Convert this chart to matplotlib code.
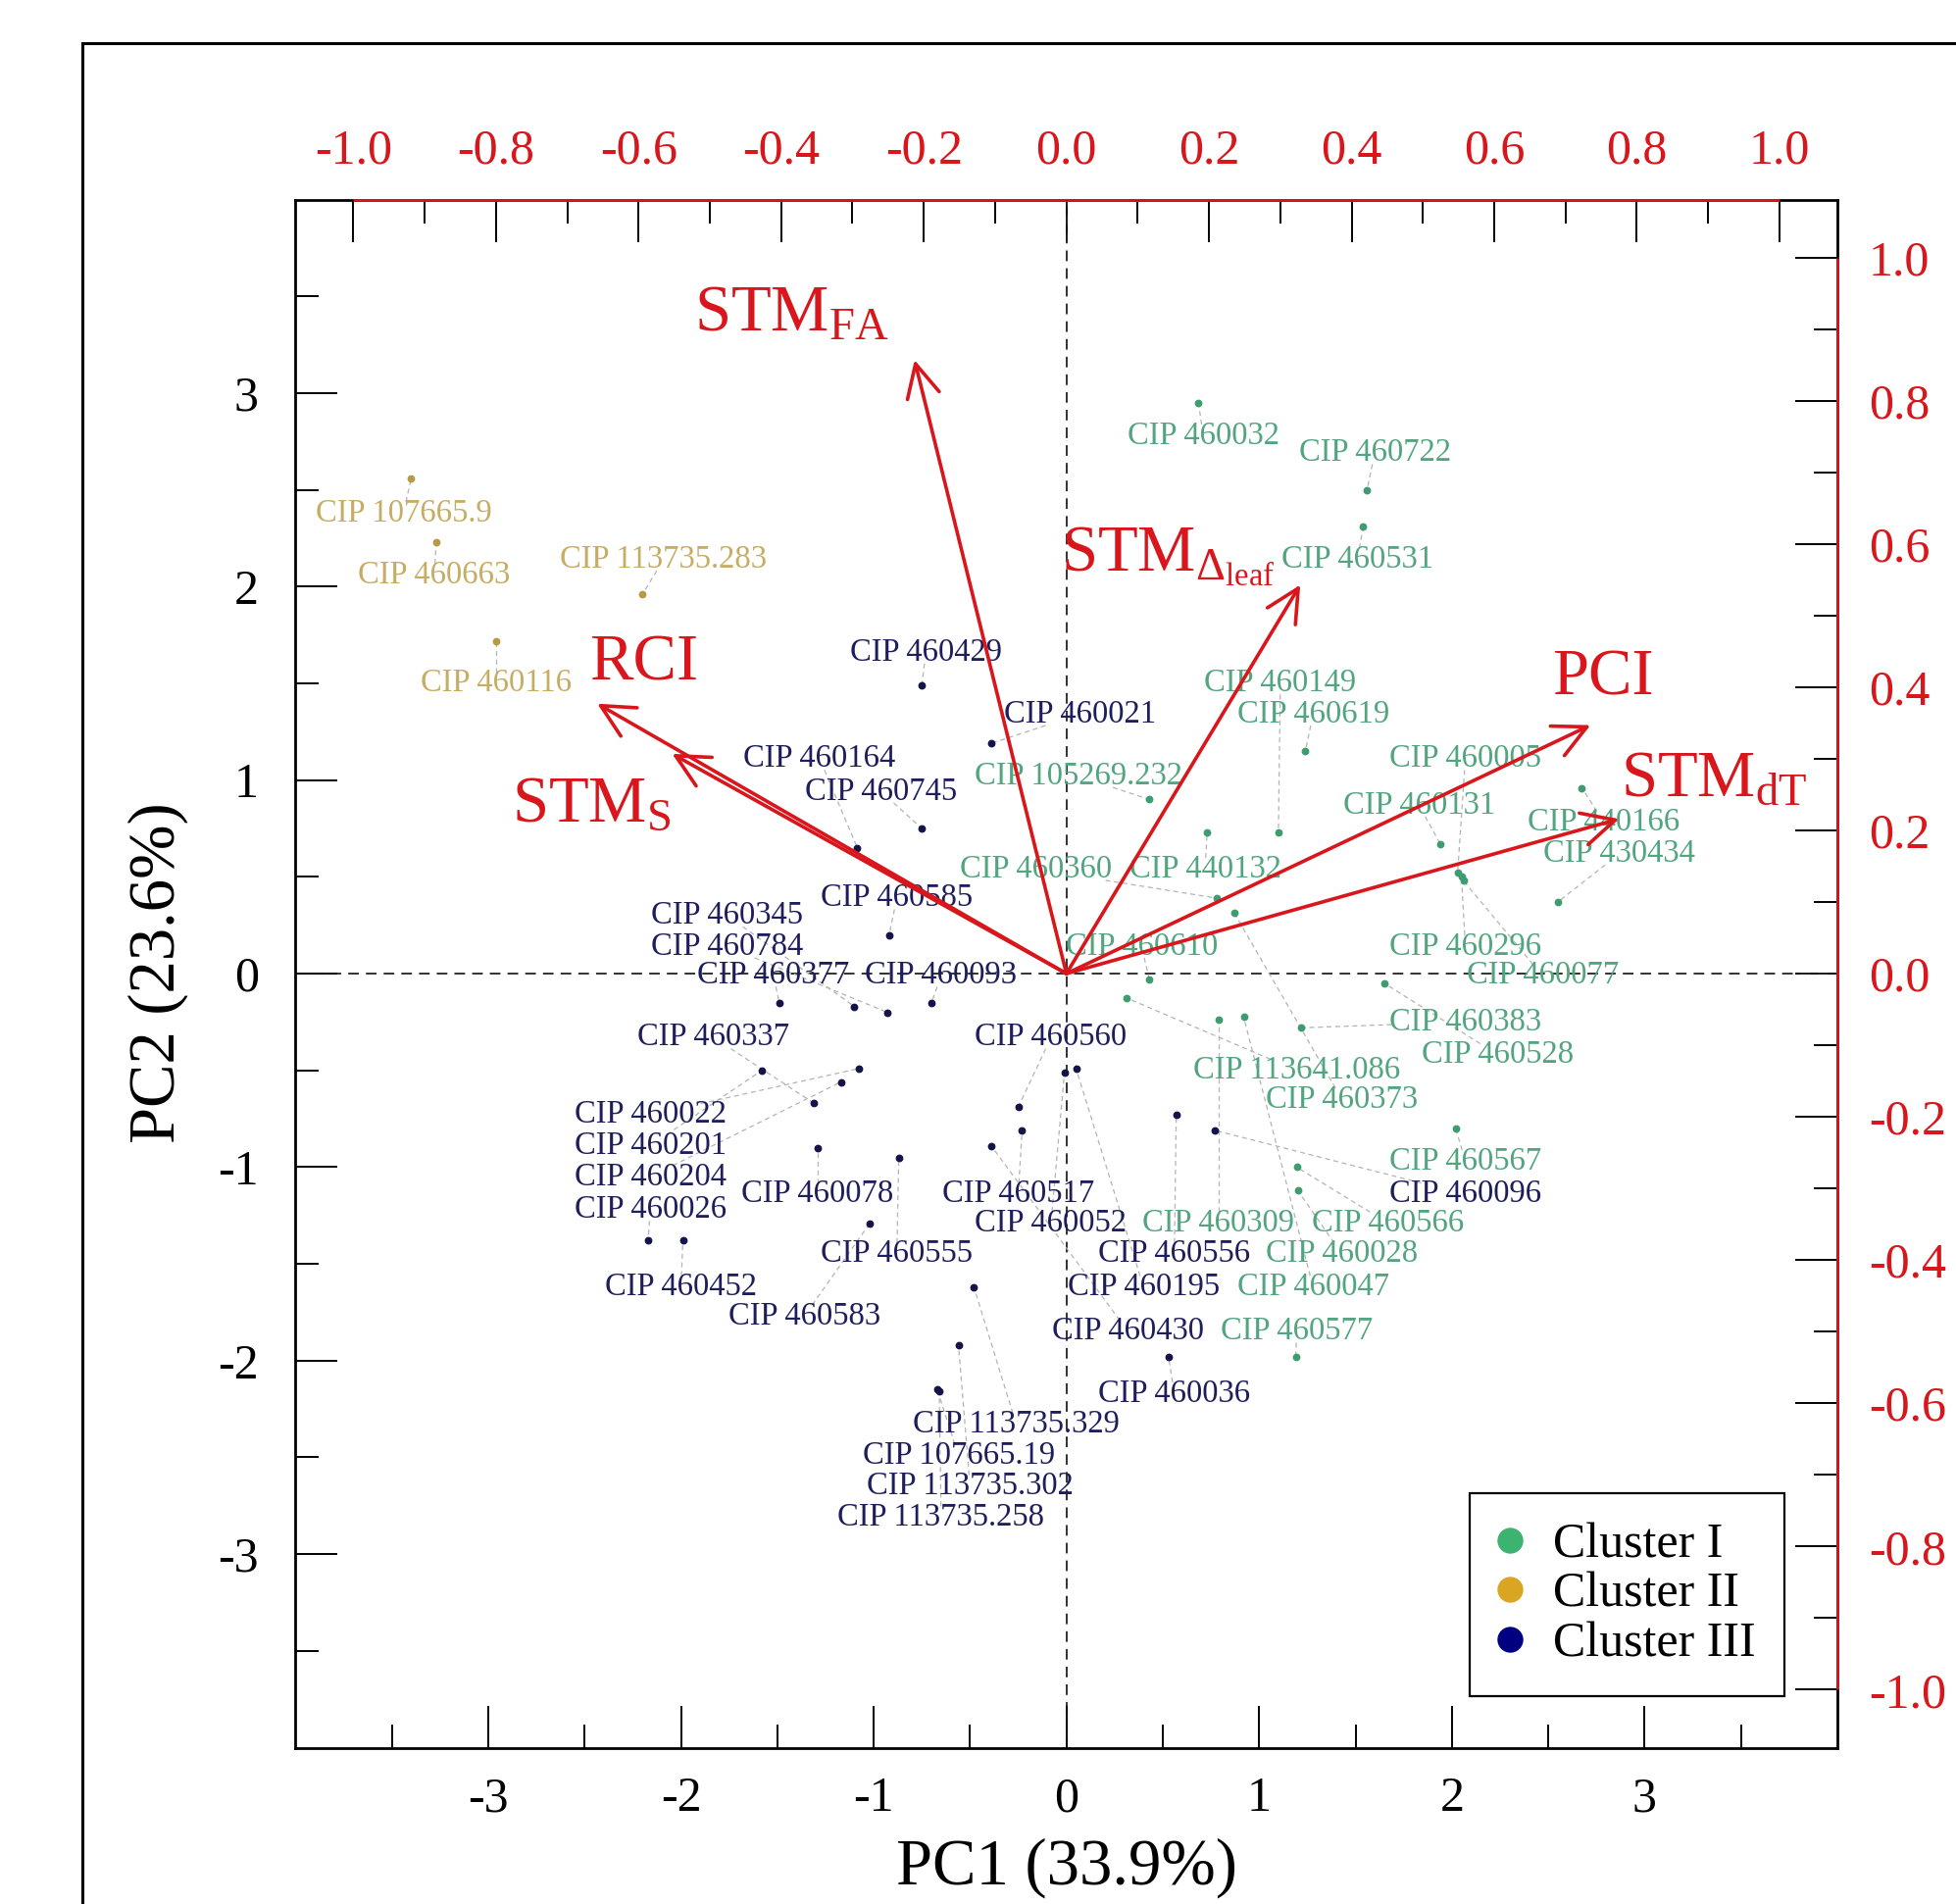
import matplotlib
matplotlib.use('Agg')
import matplotlib.pyplot as plt
import numpy as np
from matplotlib.ticker import FixedLocator, FormatStrFormatter
from matplotlib.lines import Line2D

plt.rcParams['font.family'] = ['Liberation Serif', 'DejaVu Serif']
plt.rcParams['mathtext.fontset'] = 'custom'
plt.rcParams['mathtext.rm'] = 'Liberation Serif'
plt.rcParams['mathtext.it'] = 'Liberation Serif:italic'
plt.rcParams['axes.unicode_minus'] = False

# ---------------- data ----------------
clusters = ['Cluster I', 'Cluster II', 'Cluster III']

names_I = ['CIP 460032', 'CIP 460722', 'CIP 460531', 'CIP 460149', 'CIP 460619',
           'CIP 105269.232', 'CIP 460005', 'CIP 460131', 'CIP 440166', 'CIP 430434',
           'CIP 460360', 'CIP 440132', 'CIP 460610', 'CIP 460296', 'CIP 460077',
           'CIP 460383', 'CIP 460528', 'CIP 113641.086', 'CIP 460373', 'CIP 460567',
           'CIP 460309', 'CIP 460566', 'CIP 460028', 'CIP 460047', 'CIP 460577']
pc1_I = [0.685, 1.56, 1.54, 1.10, 1.24, 0.43, 2.03, 1.94, 2.675, 2.55,
         0.78, 0.73, 0.43, 2.05, 2.06, 1.22, 1.65, 0.31, 0.87, 2.02,
         0.79, 1.195, 1.20, 0.92, 1.19]
pc2_I = [2.95, 2.50, 2.31, 0.73, 1.15, 0.90, 0.52, 0.67, 0.96, 0.37,
         0.39, 0.73, -0.03, 0.50, 0.48, -0.28, -0.05, -0.125, 0.315, -0.80,
         -0.24, -1.00, -1.12, -0.225, -1.98]

names_II = ['CIP 107665.9', 'CIP 460663', 'CIP 113735.283', 'CIP 460116']
pc1_II = [-3.40, -3.27, -2.20, -2.96]
pc2_II = [2.56, 2.23, 1.96, 1.72]

names_III = ['CIP 460429', 'CIP 460021', 'CIP 460164', 'CIP 460745', 'CIP 460585',
             'CIP 460345', 'CIP 460784', 'CIP 460377', 'CIP 460093', 'CIP 460337',
             'CIP 460560', 'CIP 460022', 'CIP 460201', 'CIP 460204', 'CIP 460026',
             'CIP 460078', 'CIP 460517', 'CIP 460052', 'CIP 460555', 'CIP 460452',
             'CIP 460583', 'CIP 460430', 'CIP 460556', 'CIP 460195', 'CIP 460036',
             'CIP 460096', 'CIP 113735.329', 'CIP 107665.19', 'CIP 113735.302',
             'CIP 113735.258']
pc1_III = [-0.75, -0.39, -1.085, -0.75, -0.92, -1.10, -0.93, -1.49, -0.70, -1.31,
           -0.25, -1.075, -1.58, -1.17, -2.17, -1.29, -0.23, -0.01, -0.87, -1.99,
           -1.02, -0.39, 0.57, 0.05, 0.53, 0.77, -0.48, -0.67, -0.56, -0.66]
pc2_III = [1.49, 1.19, 0.65, 0.75, 0.20, -0.17, -0.20, -0.15, -0.15, -0.67,
           -0.69, -0.49, -0.50, -0.56, -1.38, -0.90, -0.81, -0.51, -0.95, -1.38,
           -1.29, -0.89, -0.73, -0.49, -1.98, -0.81, -1.62, -2.15, -1.92, -2.16]

# label placement (layout, PC coordinates)
labx_I = [0.71, 1.60, 1.51, 1.11, 1.28, 0.065, 2.07, 1.83, 2.79, 2.87,
          -0.16, 0.72, 0.39, 2.07, 2.47, 2.07, 2.24, 1.195, 1.43, 2.07,
          0.79, 1.67, 1.43, 1.28, 1.195]
laby_I = [2.78, 2.69, 2.14, 1.50, 1.34, 1.02, 1.11, 0.87, 0.78, 0.62,
          0.54, 0.54, 0.14, 0.14, -0.01, -0.25, -0.42, -0.50, -0.65, -0.97,
          -1.29, -1.29, -1.45, -1.62, -1.85]
labx_II = [-3.44, -3.28, -2.09, -2.96]
laby_II = [2.38, 2.06, 2.14, 1.50]
labx_III = [-0.73, 0.07, -1.28, -0.96, -0.88, -1.76, -1.76, -1.52, -0.65, -1.83,
            -0.08, -2.16, -2.16, -2.16, -2.16, -1.29, -0.25, -0.08, -0.88, -2.00,
            -1.36, 0.32, 0.56, 0.40, 0.56, 2.07, -0.26, -0.56, -0.50, -0.65]
laby_III = [1.66, 1.34, 1.11, 0.94, 0.39, 0.30, 0.14, -0.01, -0.01, -0.33,
            -0.33, -0.73, -0.89, -1.05, -1.22, -1.14, -1.14, -1.29, -1.45, -1.62,
            -1.77, -1.85, -1.45, -1.62, -2.17, -1.14, -2.33, -2.49, -2.65, -2.81]

# variable loadings (top/right axes units)
var_labels = [r'STM$_{\mathrm{FA}}$', r'STM$_{\Delta_{\mathrm{leaf}}}$', r'PCI',
              r'STM$_{\mathrm{dT}}$', r'RCI', r'STM$_{\mathrm{S}}$']
load1 = [-0.213, 0.328, 0.735, 0.775, -0.658, -0.553]
load2 = [0.857, 0.543, 0.347, 0.216, 0.377, 0.307]
# arrow label anchors (PC coordinates, left/baseline)
var_lab_x = [-1.93, -0.03, 2.52, 2.875, -2.474, -2.88]
var_lab_y = [3.32, 2.08, 1.44, 0.92, 1.52, 0.785]

LOAD_SCALE = 3.7
x_major = [-3, -2, -1, 0, 1, 2, 3]
x_minor = [-3.5, -2.5, -1.5, -0.5, 0.5, 1.5, 2.5, 3.5]
top_major = [-1.0, -0.8, -0.6, -0.4, -0.2, 0.0, 0.2, 0.4, 0.6, 0.8, 1.0]
top_minor = [-0.9, -0.7, -0.5, -0.3, -0.1, 0.1, 0.3, 0.5, 0.7, 0.9]

# ---------------- style ----------------
RED = '#d8161c'
point_cols = ['#3f9c70', '#b89a44', '#14144a']
text_cols = ['#52a57e', '#c6ad63', '#1e1e5c']
legend_cols = ['#3cb371', '#daa520', '#000080']

fig = plt.figure(figsize=(19.95, 19.42), dpi=100)
ax = fig.add_axes([0.1511, 0.0821, 0.7882, 0.8131])
ax.set_xlim(-4, 4)
ax.set_ylim(-4, 4)

ax.axhline(0, color='#222222', lw=1.3, ls=(0, (6, 4)), zorder=1)
ax.axvline(0, color='#222222', lw=1.3, ls=(0, (6, 4)), zorder=1)

groups = [(names_I, pc1_I, pc2_I, labx_I, laby_I),
          (names_II, pc1_II, pc2_II, labx_II, laby_II),
          (names_III, pc1_III, pc2_III, labx_III, laby_III)]

texts = []
pts = []
for gi, (nm, xs, ys, lx, ly) in enumerate(groups):
    ax.plot(xs, ys, 'o', ms=4.6, color=point_cols[gi], zorder=3, ls='')
    for n, x, y, tx, ty in zip(nm, xs, ys, lx, ly):
        t = ax.text(tx, ty, n, fontsize=23.5, color=text_cols[gi],
                    ha='center', va='center', zorder=4)
        texts.append(t)
        pts.append((x, y))

# arrows
for lab, l1, l2, tx, ty in zip(var_labels, load1, load2, var_lab_x, var_lab_y):
    ax.annotate('', xy=(l1 * LOAD_SCALE, l2 * LOAD_SCALE), xytext=(0, 0),
                arrowprops=dict(arrowstyle='->,head_length=0.8,head_width=0.4',
                                lw=2.6, color=RED, shrinkA=0, shrinkB=0,
                                mutation_scale=30),
                zorder=5)
    ax.text(tx, ty, lab, fontsize=48, color=RED, ha='left', va='baseline', zorder=6)

# ticks main axes
ax.xaxis.set_major_locator(FixedLocator(x_major))
ax.xaxis.set_minor_locator(FixedLocator(x_minor))
ax.yaxis.set_major_locator(FixedLocator(x_major))
ax.yaxis.set_minor_locator(FixedLocator(x_minor))
ax.tick_params(which='major', direction='in', length=31, width=1.4, labelsize=36,
               top=False, right=False)
ax.tick_params(which='minor', direction='in', length=17, width=1.4,
               top=False, right=False)
ax.tick_params(axis='x', which='major', pad=21)
ax.tick_params(axis='y', which='major', pad=27)
for s in ax.spines.values():
    s.set_linewidth(2.0)
    s.set_color('black')

# secondary (loading) axes
k = LOAD_SCALE
secx = ax.secondary_xaxis('top', functions=(lambda v: v / k, lambda v: v * k))
secy = ax.secondary_yaxis('right', functions=(lambda v: v / k, lambda v: v * k))
for sec, axis in ((secx, secx.xaxis), (secy, secy.yaxis)):
    axis.set_major_locator(FixedLocator(top_major))
    axis.set_minor_locator(FixedLocator(top_minor))
    axis.set_major_formatter(FormatStrFormatter('%.1f'))
    sec.tick_params(which='major', direction='in', length=31, width=1.4,
                    labelsize=36, labelcolor=RED, color='black')
    sec.tick_params(which='minor', direction='in', length=17, width=1.4, color='black')
    for s in sec.spines.values():
        s.set_visible(False)
secx.tick_params(which='major', pad=19)
secy.tick_params(which='major', pad=23)

# red portions of the top/right spines
ax.plot([-k, k], [4, 4], color=RED, lw=2.0, clip_on=False, zorder=3,
        solid_capstyle='butt')
ax.plot([4, 4], [-k, k], color=RED, lw=2.0, clip_on=False, zorder=3,
        solid_capstyle='butt')

# legend
handles = [Line2D([], [], marker='o', ls='', ms=18, color=c) for c in legend_cols]
leg = ax.legend(handles, clusters, loc='lower right', bbox_to_anchor=(0.966, 0.033),
                borderaxespad=0, fontsize=36, frameon=True, fancybox=False,
                edgecolor='black', framealpha=1, handlelength=0.45,
                handletextpad=0.65, borderpad=0.6, labelspacing=0.08)
leg.get_frame().set_linewidth(1.6)
leg.set_zorder(7)

# axis titles
fig.text(161.6 / 1995, 1 - 992 / 1942, 'PC2 (23.6%)', rotation=90,
         ha='center', va='center', fontsize=48)
fig.text(1088 / 1995, 0.003, 'PC1 (33.9%)', ha='center', va='bottom', fontsize=48)

# outer frame
fig.add_artist(Line2D([84 / 1995, 84 / 1995], [-0.02, 1 - 44.5 / 1942],
                      color='black', lw=2.2, transform=fig.transFigure))
fig.add_artist(Line2D([84 / 1995, 1.02], [1 - 44.5 / 1942, 1 - 44.5 / 1942],
                      color='black', lw=2.2, transform=fig.transFigure))

# leader lines from labels to points
fig.canvas.draw()
renderer = fig.canvas.get_renderer()
inv = ax.transData.inverted()
for t, (px, py) in zip(texts, pts):
    bb = t.get_window_extent(renderer)
    (x0, y0), (x1, y1) = inv.transform([[bb.x0, bb.y0], [bb.x1, bb.y1]])
    cx, cy = (x0 + x1) / 2, (y0 + y1) / 2
    hw, hh = (x1 - x0) / 2 * 0.97, (y1 - y0) / 2 * 0.75
    dx, dy = px - cx, py - cy
    if abs(dx) <= hw and abs(dy) <= hh:
        continue
    sx = hw / abs(dx) if dx != 0 else np.inf
    sy = hh / abs(dy) if dy != 0 else np.inf
    s = min(sx, sy)
    ex, ey = cx + dx * s, cy + dy * s
    if np.hypot(px - ex, py - ey) < 0.05:
        continue
    ax.plot([ex, px], [ey, py], color='#b4b4b4', lw=0.9, ls=(0, (4, 3)), zorder=2)

fig.savefig('out.png', dpi=100)
